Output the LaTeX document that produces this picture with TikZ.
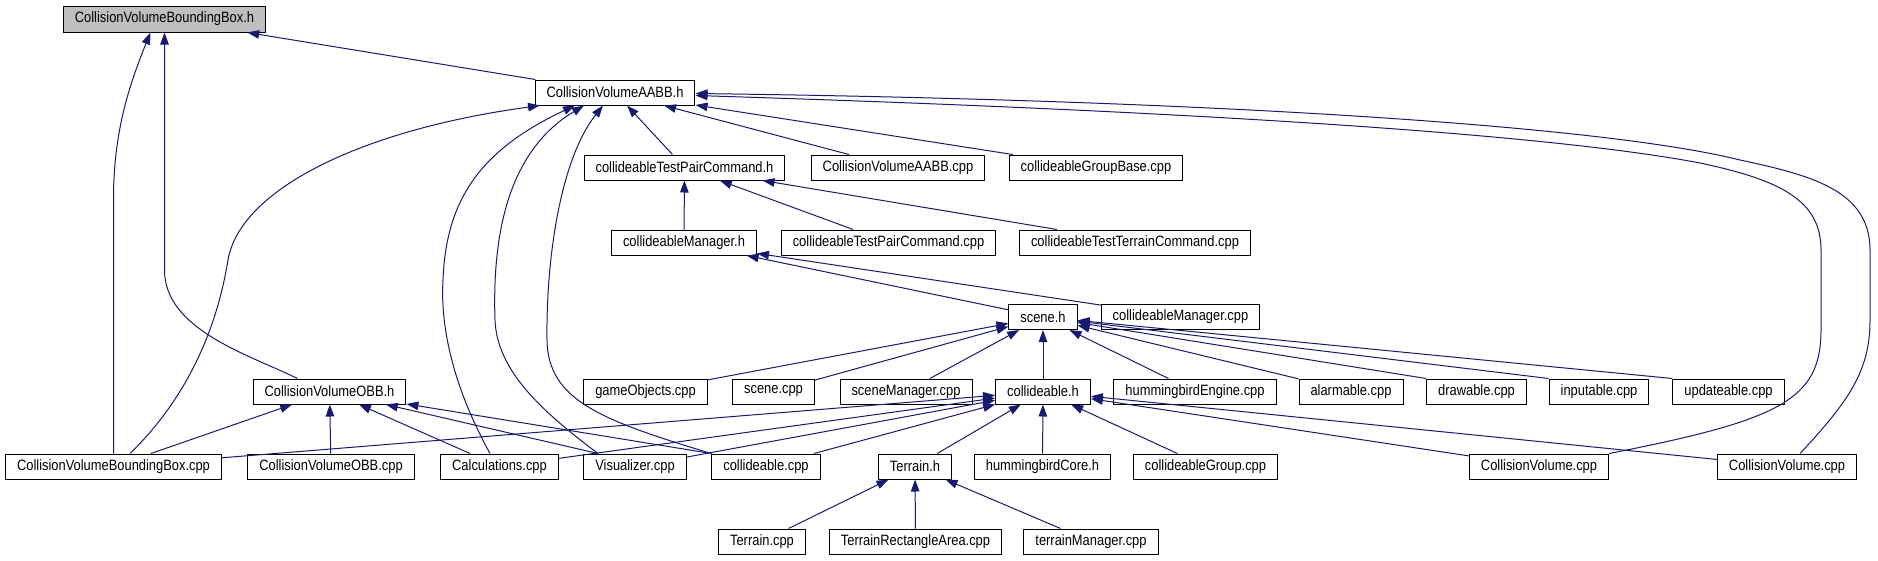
\documentclass[tikz,border=0pt]{standalone}
\usepackage{fontspec}
\setmainfont{Liberation Sans}[FakeStretch=0.86]
\usetikzlibrary{positioning,arrows.meta,calc}
\definecolor{edgeblue}{HTML}{191970}
\definecolor{rootgray}{HTML}{BFBFBF}
\tikzset{
  filebox/.style={draw=black, line width=1pt, fill=white, minimum height=25pt, inner xsep=11.5pt, inner ysep=0pt, font=\fontsize{15}{18}\selectfont},
  rootbox/.style={filebox, fill=rootgray, minimum height=26pt},
  incarrow/.style={-{Triangle[length=12pt,width=8.5pt]}, draw=edgeblue, line width=1pt}
}
\begin{document}
\begin{tikzpicture}[x=1pt, y=-1pt]
  \useasboundingbox (0,0) rectangle (1878,560);
  \node[rootbox] (bbh) at (164.5,19) {CollisionVolumeBoundingBox.h};
  \node[filebox] (aabbh) at (615,92.5) {CollisionVolumeAABB.h};
  \node[filebox] (tpch) at (684.5,167.5) {collideableTestPairCommand.h};
  \node[filebox] (aabbcpp) at (898,167.5) {CollisionVolumeAABB.cpp};
  \node[filebox] (gbcpp) at (1096,167.5) {collideableGroupBase.cpp};
  \node[filebox] (mgrh) at (684,242.5) {collideableManager.h};
  \node[filebox] (tpccpp) at (888.5,242.5) {collideableTestPairCommand.cpp};
  \node[filebox] (ttccpp) at (1135,242.5) {collideableTestTerrainCommand.cpp};
  \node[filebox] (sceneh) at (1043,317) {scene.h};
  \node[filebox] (mgrcpp) at (1180.5,317) {collideableManager.cpp};
  \node[filebox] (obbh) at (329.5,391.5) {CollisionVolumeOBB.h};
  \node[filebox] (gocpp) at (645.5,391.5) {gameObjects.cpp};
  \node[filebox] (scenecpp) at (773.5,391.5) {scene.cpp};
  \node[filebox] (smcpp) at (906,391.5) {sceneManager.cpp};
  \node[filebox] (collh) at (1043,391.5) {collideable.h};
  \node[filebox] (hecpp) at (1195,391.5) {hummingbirdEngine.cpp};
  \node[filebox] (alcpp) at (1351,391.5) {alarmable.cpp};
  \node[filebox] (drcpp) at (1476.5,391.5) {drawable.cpp};
  \node[filebox] (incpp) at (1599,391.5) {inputable.cpp};
  \node[filebox] (upcpp) at (1728.5,391.5) {updateable.cpp};
  \node[filebox] (bbcpp) at (113.5,466.5) {CollisionVolumeBoundingBox.cpp};
  \node[filebox] (obbcpp) at (331,466.5) {CollisionVolumeOBB.cpp};
  \node[filebox] (calccpp) at (499.5,466.5) {Calculations.cpp};
  \node[filebox] (viscpp) at (635,466.5) {Visualizer.cpp};
  \node[filebox] (collcpp) at (766,466.5) {collideable.cpp};
  \node[filebox] (terrh) at (915,466.5) {Terrain.h};
  \node[filebox] (hch) at (1042.5,466.5) {hummingbirdCore.h};
  \node[filebox] (cgcpp) at (1205.5,466.5) {collideableGroup.cpp};
  \node[filebox] (cvcppa) at (1539,466.5) {CollisionVolume.cpp};
  \node[filebox] (cvcppb) at (1787,466.5) {CollisionVolume.cpp};
  \node[filebox] (terrcpp) at (762,541.5) {Terrain.cpp};
  \node[filebox] (traccpp) at (915.5,541.5) {TerrainRectangleArea.cpp};
  \node[filebox] (tmcpp) at (1091,541.5) {terrainManager.cpp};

  \draw[incarrow] (aabbh) -- (bbh);
  \draw[incarrow] (bbcpp.north) -- (113.5,200) .. controls (113.5,140) and (125,95) .. ([xshift=-14pt]bbh.south);
  \draw[incarrow] ([xshift=-32pt]obbh.north) .. controls (250,355) and (164.5,330) .. (164.5,270) -- (bbh.south);

  \draw[incarrow] ([xshift=16.5pt]bbcpp.north) .. controls (180,405) and (215,340) .. (228,260) .. controls (240,190) and (360,130) .. ([xshift=-75pt]aabbh.south);
  \draw[incarrow] ([xshift=-9.5pt]calccpp.north) .. controls (455,390) and (440,330) .. (443,280) .. controls (446,200) and (480,150) .. ([xshift=-40pt]aabbh.south);
  \draw[incarrow] ([xshift=-37pt]viscpp.north) .. controls (540,410) and (497,370) .. (495,320) .. controls (492,230) and (510,150) .. ([xshift=-31pt]aabbh.south);
  \draw[incarrow] (collcpp.north west) .. controls (600,420) and (548,400) .. (547,340) .. controls (546,260) and (560,160) .. ([xshift=-12pt]aabbh.south);
  \draw[incarrow] (tpch) -- (aabbh);
  \draw[incarrow] (aabbcpp) -- (aabbh);
  \draw[incarrow] (gbcpp) -- (aabbh);
  \draw[incarrow] (cvcppa.north east) .. controls (1780,420) and (1821,400) .. (1821,330) -- (1821,250) .. controls (1821,200) and (1780,180) .. (1700,163) .. controls (1500,125) and (1000,105) .. ([yshift=-3pt]aabbh.east);
  \draw[incarrow] ([xshift=13pt]cvcppb.north) .. controls (1850,400) and (1870,370) .. (1870,320) -- (1870,250) .. controls (1870,190) and (1810,175) .. (1740,160) .. controls (1600,125) and (1200,100) .. ([yshift=-1pt]aabbh.east);

  \draw[incarrow] (mgrh) -- (tpch);
  \draw[incarrow] (tpccpp) -- (tpch);
  \draw[incarrow] (ttccpp) -- (tpch);
  \draw[incarrow] (sceneh) -- (mgrh);
  \draw[incarrow] (mgrcpp) -- (mgrh);

  \draw[incarrow] (gocpp) -- (sceneh);
  \draw[incarrow] (scenecpp) -- (sceneh);
  \draw[incarrow] (smcpp) -- (sceneh);
  \draw[incarrow] (collh) -- (sceneh);
  \draw[incarrow] (hecpp) -- (sceneh);
  \draw[incarrow] (alcpp) -- (sceneh);
  \draw[incarrow] (drcpp.north west) -- (sceneh);
  \draw[incarrow] (incpp.north west) -- (sceneh);
  \draw[incarrow] (upcpp.north west) -- (sceneh);

  \draw[incarrow] (bbcpp) -- (collh);
  \draw[incarrow] (calccpp) -- (collh);
  \draw[incarrow] (viscpp) -- (collh);
  \draw[incarrow] (collcpp) -- (collh);
  \draw[incarrow] (terrh) -- (collh);
  \draw[incarrow] (hch) -- (collh);
  \draw[incarrow] (cgcpp) -- (collh);
  \draw[incarrow] (cvcppa) -- (collh);
  \draw[incarrow] (cvcppb) -- (collh);

  \draw[incarrow] (bbcpp) -- (obbh);
  \draw[incarrow] (obbcpp) -- (obbh);
  \draw[incarrow] (calccpp) -- (obbh);
  \draw[incarrow] ([xshift=-37pt]viscpp.north) -- (obbh);
  \draw[incarrow] (collcpp.north west) -- (obbh);

  \draw[incarrow] (terrcpp) -- (terrh);
  \draw[incarrow] (traccpp) -- (terrh);
  \draw[incarrow] (tmcpp) -- (terrh);
\end{tikzpicture}
\end{document}
